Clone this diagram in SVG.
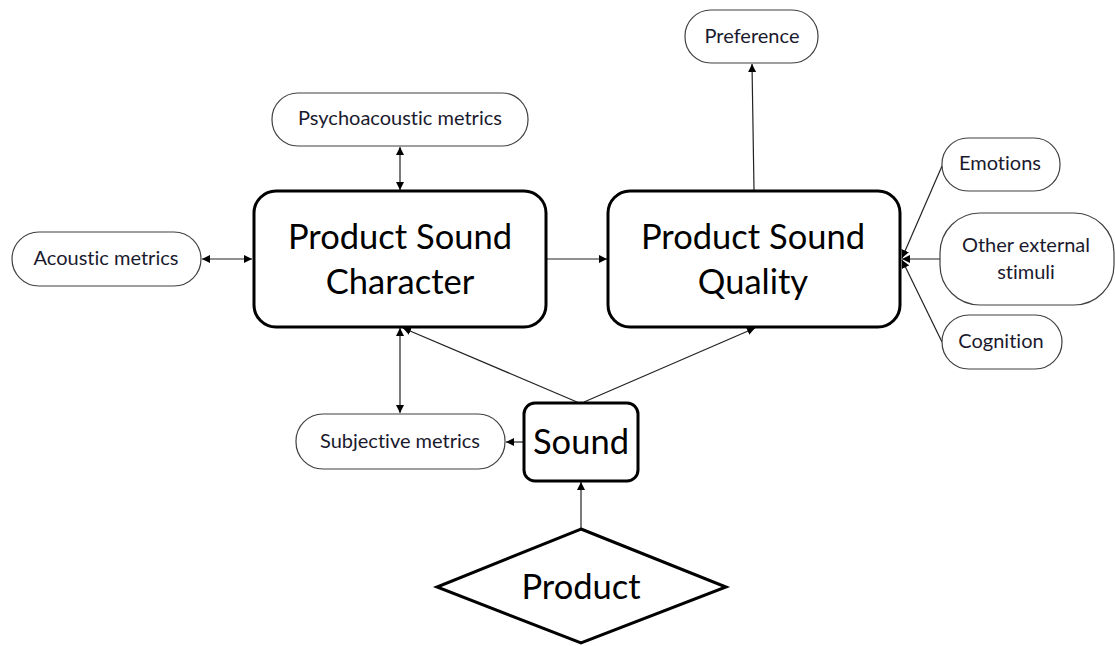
<svg xmlns="http://www.w3.org/2000/svg" width="1115" height="646" viewBox="0 0 1115 646">
  <style>
    .big { fill: #fff; stroke: #000; stroke-width: 3; }
    .pill { fill: #fff; stroke: #404040; stroke-width: 1.2; }
    .lbl { font-family: Lato, "Open Sans", sans-serif; fill: #1a1a2e; text-anchor: middle; font-variant-ligatures: none; }
    .sm { font-size: 20px; }
    .lg { font-size: 34.5px; fill: #000; }
    .edge { stroke: #222; stroke-width: 1.2; fill: none; }
  </style>
  <defs>
    <marker id="ah" viewBox="0 0 10 10" refX="10" refY="5" markerWidth="8" markerHeight="8" markerUnits="userSpaceOnUse" orient="auto-start-reverse">
      <path d="M0,0 L10,5 L0,10 z" fill="#000"/>
    </marker>
  </defs>

  <!-- connectors between nodes -->
  <g id="connectors">
    <line class="edge" x1="400" y1="147" x2="400" y2="190" marker-start="url(#ah)" marker-end="url(#ah)"/>
    <line class="edge" x1="202" y1="259" x2="252" y2="259" marker-start="url(#ah)" marker-end="url(#ah)"/>
    <line class="edge" x1="547" y1="259" x2="607" y2="259" marker-end="url(#ah)"/>
    <line class="edge" x1="754" y1="190" x2="752" y2="64" marker-end="url(#ah)"/>
    <line class="edge" x1="942" y1="166" x2="902" y2="258" marker-end="url(#ah)"/>
    <line class="edge" x1="940" y1="259" x2="902" y2="259" marker-end="url(#ah)"/>
    <line class="edge" x1="942" y1="342" x2="902" y2="260" marker-end="url(#ah)"/>
    <line class="edge" x1="577" y1="402" x2="403" y2="328" marker-end="url(#ah)"/>
    <line class="edge" x1="584" y1="402" x2="755" y2="328" marker-end="url(#ah)"/>
    <line class="edge" x1="400" y1="328" x2="400" y2="413" marker-start="url(#ah)" marker-end="url(#ah)"/>
    <line class="edge" x1="523" y1="442" x2="506" y2="442" marker-end="url(#ah)"/>
    <line class="edge" x1="581" y1="529" x2="581" y2="482" marker-end="url(#ah)"/>
  </g>

  <g id="psc">
    <rect class="big" x="254" y="191" width="292" height="136" rx="22"/>
    <text class="lbl lg" x="400" y="249">Product Sound</text>
    <text class="lbl lg" x="400" y="294">Character</text>
  </g>
  <g id="psq">
    <rect class="big" x="608" y="191" width="292" height="136" rx="22"/>
    <text class="lbl lg" x="753" y="249">Product Sound</text>
    <text class="lbl lg" x="753" y="294">Quality</text>
  </g>
  <g id="sound">
    <rect class="big" x="524" y="403" width="114" height="78" rx="11"/>
    <text class="lbl lg" x="581" y="454">Sound</text>
  </g>
  <g id="product">
    <polygon class="big" points="581,529 726,587 581,643 437,587"/>
    <text class="lbl lg" x="581" y="599">Product</text>
  </g>
  <g id="preference">
    <rect class="pill" x="685" y="10" width="133" height="53" rx="26"/>
    <text class="lbl sm" x="752" y="43">Preference</text>
  </g>
  <g id="psychoacoustic">
    <rect class="pill" x="272" y="93" width="256" height="53" rx="26"/>
    <text class="lbl sm" x="400" y="125">Psychoacoustic metrics</text>
  </g>
  <g id="acoustic">
    <rect class="pill" x="12" y="232" width="189" height="54" rx="27"/>
    <text class="lbl sm" x="106" y="265">Acoustic metrics</text>
  </g>
  <g id="subjective">
    <rect class="pill" x="296" y="414" width="209" height="55" rx="27"/>
    <text class="lbl sm" x="400" y="448">Subjective metrics</text>
  </g>
  <g id="emotions">
    <rect class="pill" x="942" y="138" width="118" height="53" rx="26"/>
    <text class="lbl sm" x="1000" y="170">Emotions</text>
  </g>
  <g id="external">
    <rect class="pill" x="940" y="213" width="174" height="92" rx="40"/>
    <text class="lbl sm" x="1026" y="252">Other external</text>
    <text class="lbl sm" x="1026" y="279">stimuli</text>
  </g>
  <g id="cognition">
    <rect class="pill" x="942" y="315" width="120" height="54" rx="27"/>
    <text class="lbl sm" x="1001" y="348">Cognition</text>
  </g>
</svg>
